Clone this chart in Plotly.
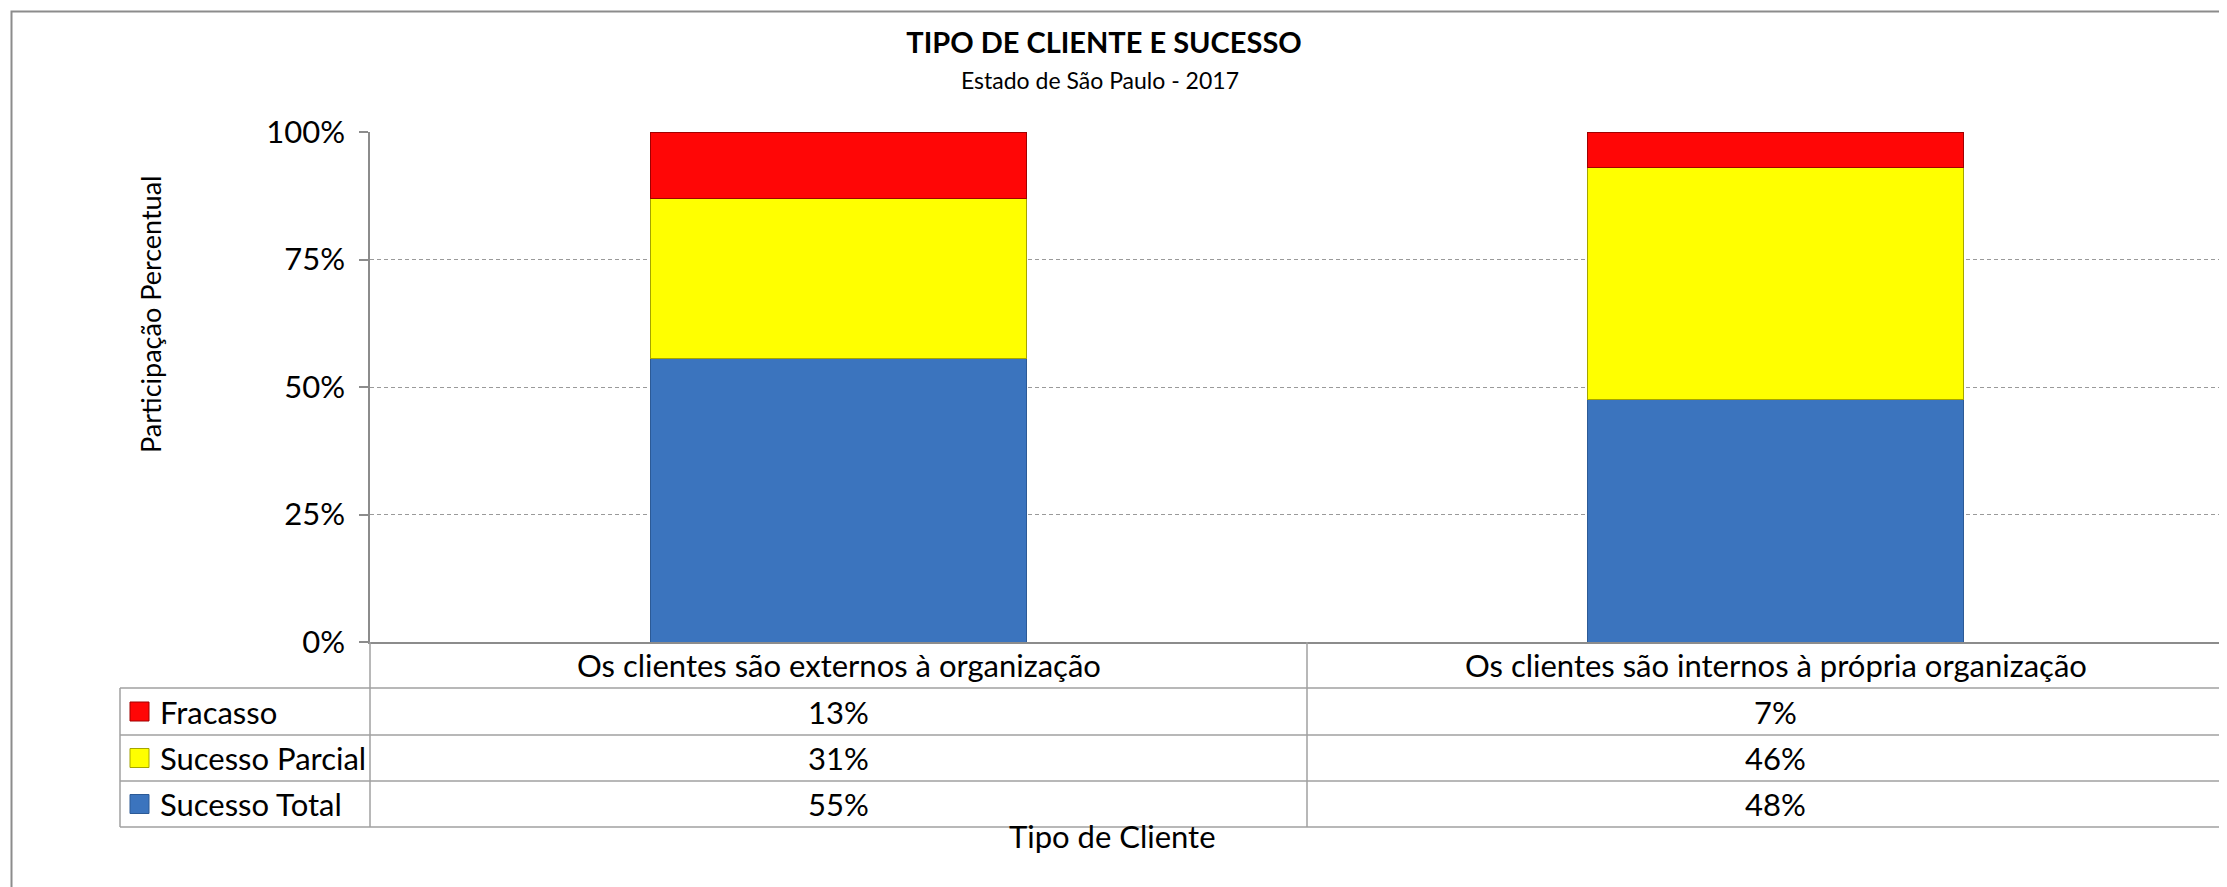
import plotly.graph_objects as go

# ---------------- data ----------------
categories = ["Os clientes são externos à organização",
              "Os clientes são internos à própria organização"]
sucesso_total = [55, 48]
sucesso_parcial = [31, 46]
fracasso = [13, 7]
y_tick_vals = [0, 25, 50, 75, 100]
y_tick_text = ["0%", "25%", "50%", "75%", "100%"]

title_text = "TIPO DE CLIENTE E SUCESSO"
subtitle_text = "Estado de São Paulo - 2017"
y_title = "Participação Percentual"
x_title = "Tipo de Cliente"

# ---------------- styles ----------------
FONT = "Lato, 'Open Sans', sans-serif"
series = [
    ("Sucesso Total", sucesso_total, "#3B74BE", "#2C5A96"),
    ("Sucesso Parcial", sucesso_parcial, "#FFFF00", "#A5A500"),
    ("Fracasso", fracasso, "#FF0606", "#A00000"),
]

OFF = 8                      # page body margin
W, H = 2227 - OFF, 887 - OFF
REF_L, REF_T = 370, 132      # plot area position in reference pixels
PH = 510
L, T = REF_L - OFF, REF_T - OFF
B = H - T - PH
PW = W - L
CAT_W = 937


def px(xp):
    """reference pixel x -> paper x"""
    return (xp - OFF - L) / PW


def py(yp):
    """reference pixel y -> paper y"""
    return (T + PH - (yp - OFF)) / PH


fig = go.Figure()
for name, vals, col, edge in series:
    fig.add_trace(go.Bar(x=categories, y=vals, name=name,
                         marker=dict(color=col, line=dict(color=edge, width=1)),
                         showlegend=False))

GRID = "#9A9A9A"
AXIS = "#8C8C8C"

fig.update_layout(
    width=W, height=H,
    margin=dict(l=L, r=0, t=T, b=B),
    barmode="stack", barnorm="percent", bargap=0.599,
    paper_bgcolor="white", plot_bgcolor="white",
    font=dict(family=FONT, color="#000000"),
    title=dict(text="<b>%s</b>" % title_text, x=px(1104), xanchor="center",
               xref="paper", y=1 - (43 - OFF) / H, yanchor="middle", yref="container",
               font=dict(size=29, family=FONT, color="#000000")),
)
fig.update_xaxes(range=[-0.5, -0.5 + PW / CAT_W], showticklabels=False, ticks="",
                 showline=True, linecolor=AXIS, linewidth=1.5, showgrid=False,
                 zeroline=False, fixedrange=True)
fig.update_yaxes(range=[0, 100], tickvals=y_tick_vals, ticktext=y_tick_text,
                 ticks="outside", ticklen=9, tickcolor=AXIS, tickwidth=1.5,
                 showline=True, linecolor=AXIS, linewidth=1.5,
                 showgrid=True, gridcolor=GRID, gridwidth=1, griddash="4px,3px",
                 zeroline=False, ticklabelstandoff=8,
                 tickfont=dict(size=31, family=FONT, color="#000000"))

annotations = []
shapes = []

# subtitle
annotations.append(dict(text=subtitle_text, x=px(1100), y=py(80), xref="paper", yref="paper",
                        showarrow=False, xanchor="center", yanchor="middle",
                        font=dict(size=23, family=FONT, color="#000000")))
# axis titles
annotations.append(dict(text=y_title, x=px(150), y=py(315), xref="paper", yref="paper",
                        showarrow=False, textangle=-90, xanchor="center", yanchor="middle",
                        font=dict(size=27, family=FONT, color="#000000")))
annotations.append(dict(text=x_title, x=px(1112), y=py(836), xref="paper", yref="paper",
                        showarrow=False, xanchor="center", yanchor="middle",
                        font=dict(size=31, family=FONT, color="#000000")))

# data table
header_c = 665
row_lines = [688, 735, 781, 827]
row_centers = [711.5, 758, 804]
table_rows = list(reversed(series))  # Fracasso, Parcial, Total
for i, cat in enumerate(categories):
    cx = px(REF_L + CAT_W * (i + 0.5))
    annotations.append(dict(text=cat, x=cx, y=py(header_c), xref="paper", yref="paper",
                            showarrow=False, xanchor="center", yanchor="middle",
                            font=dict(size=31, family=FONT, color="#000000")))
    for r, (name, vals, col, edge) in enumerate(table_rows):
        annotations.append(dict(text="%d%%" % vals[i], x=cx, y=py(row_centers[r]),
                                xref="paper", yref="paper", showarrow=False,
                                xanchor="center", yanchor="middle",
                                font=dict(size=31, family=FONT, color="#000000")))
for r, (name, vals, col, edge) in enumerate(table_rows):
    c = row_centers[r]
    shapes.append(dict(type="rect", xref="paper", yref="paper",
                       x0=px(130), x1=px(149), y0=py(c + 9.5), y1=py(c - 9.5),
                       fillcolor=col, line=dict(color=edge, width=1)))
    annotations.append(dict(text=name, x=px(158), y=py(c), xref="paper", yref="paper",
                            showarrow=False, xanchor="left", yanchor="middle",
                            font=dict(size=31, family=FONT, color="#000000")))

LINE = dict(color="#A0A0A0", width=1.5)
for yl in row_lines:
    shapes.append(dict(type="line", xref="paper", yref="paper", x0=px(120), x1=1,
                       y0=py(yl), y1=py(yl), line=LINE))
shapes.append(dict(type="line", xref="paper", yref="paper", x0=px(120), x1=px(120),
                   y0=py(688), y1=py(827), line=LINE))
shapes.append(dict(type="line", xref="paper", yref="paper", x0=0, x1=0,
                   y0=py(642), y1=py(827), line=LINE))
shapes.append(dict(type="line", xref="paper", yref="paper",
                   x0=px(REF_L + CAT_W), x1=px(REF_L + CAT_W),
                   y0=py(642), y1=py(827), line=LINE))
# outer chart border
shapes.append(dict(type="rect", xref="paper", yref="paper", x0=px(11.5), x1=px(2227 + 30),
                   y0=py(11.5), y1=py(887 + 30), line=dict(color="#8C8C8C", width=2),
                   fillcolor="rgba(0,0,0,0)", layer="below"))

fig.update_layout(annotations=annotations, shapes=shapes)
fig.write_html("out.html")
